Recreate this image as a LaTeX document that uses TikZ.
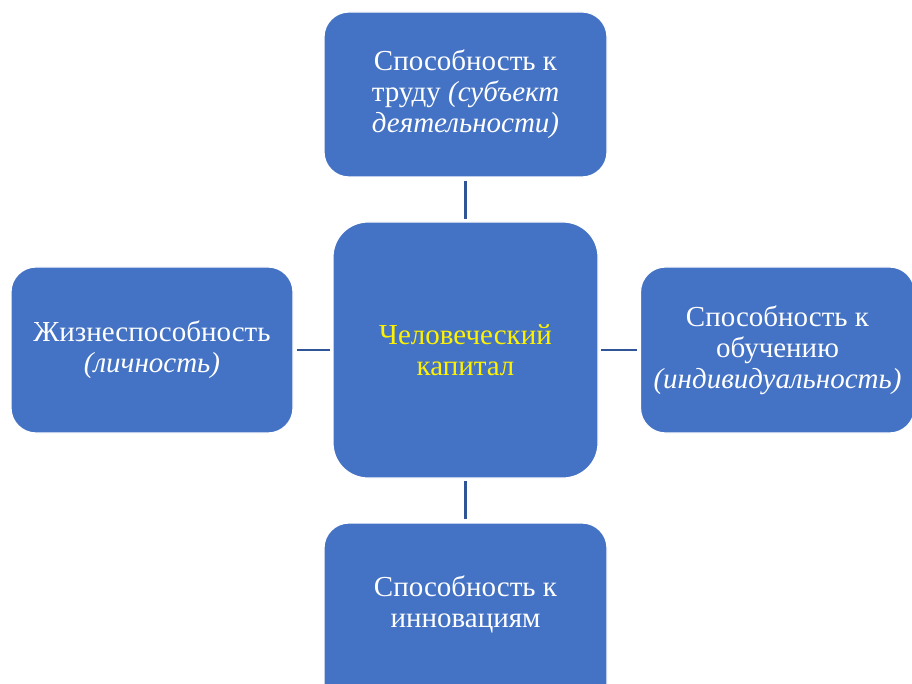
\documentclass[tikz,border=0pt]{standalone}
\usepackage{fontspec}
\setmainfont{Liberation Serif}
\definecolor{boxblue}{HTML}{4472C4}
\definecolor{linkblue}{HTML}{2F5597}
\begin{document}
\begin{tikzpicture}[x=1pt,y=-1pt,
  card/.style={draw=white, line width=1.2pt, fill=boxblue, rounded corners=25pt,
    text=white, align=center, inner sep=0pt, font=\fontsize{29}{31}\selectfont},
  cardtext/.style={text=white, align=center, inner sep=0pt, font=\fontsize{29}{31}\selectfont},
  link/.style={draw=linkblue, line width=2.5pt, shorten <=3pt, shorten >=2pt}]
\useasboundingbox (0,0) rectangle (912,684);
\clip (0,0) rectangle (912,684);
\node[card, minimum width=283pt, minimum height=165pt] (top) at (465.5,94.5)
  {Способность к\\труду \textit{(субъект}\\\textit{деятельности)}};
\node[card, rounded corners=35pt, text=yellow, minimum width=265pt, minimum height=256pt] (mid) at (465.5,350)
  {Человеческий\\капитал};
\node[card, minimum width=282pt, minimum height=166pt] (left) at (152,350)
  {Жизнеспособность\\\textit{(личность)}};
\node[card, minimum width=274pt, minimum height=166pt] (right) at (777.5,350)
  {Способность к\\обучению\\\textit{(индивидуальность)}};
\node[card, minimum width=283pt, minimum height=200pt] (bot) at (465.5,623) {};
\node[cardtext] (bottxt) at (465.5,604) {Способность к\\инновациям};
\draw[link] (top) -- (mid);
\draw[link] (left) -- (mid);
\draw[link] (right) -- (mid);
\draw[link] (bot) -- (mid);
\end{tikzpicture}
\end{document}
